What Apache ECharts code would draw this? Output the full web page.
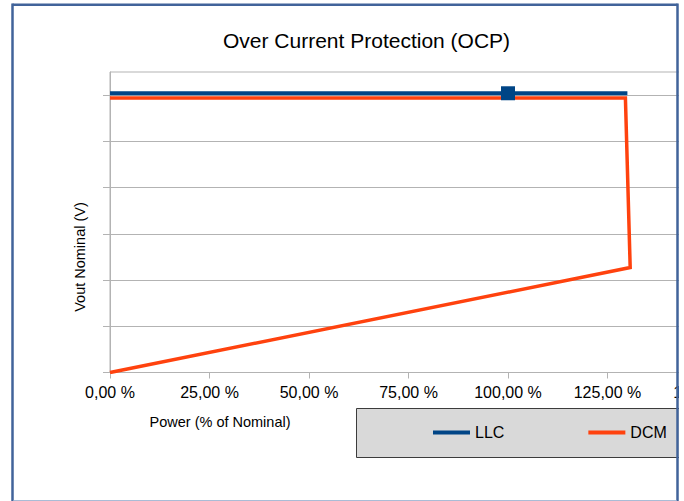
<!DOCTYPE html>
<html>
<head>
<meta charset="utf-8">
<script src="https://cdn.jsdelivr.net/npm/echarts@6/dist/echarts.min.js"></script>
<style>
html,body{margin:0;padding:0;background:#fff;}
#chart{width:684px;height:501px;}
</style>
</head>
<body>
<div id="chart"></div>
<script>
// ---- data ----
var titleText = 'Over Current Protection (OCP)';
var xAxisName = 'Power (% of Nominal)';
var yAxisName = 'Vout Nominal (V)';
var seriesNames = ['LLC', 'DCM'];
var xTicks = [0, 25, 50, 75, 100, 125, 150];
var yTicks = [0, 1, 2, 3, 4, 5, 6];
var llcX = [0, 100, 130];
var llcY = [6.04, 6.04, 6.04];
var llcMarker = [false, true, false];
var dcmX = [0, 129.5, 130.7, 0];
var dcmY = [5.94, 5.94, 2.27, 0];

var FONT = '"Liberation Sans", Arial, sans-serif';

var llcData = llcX.map(function (x, i) {
  return { value: [x, llcY[i]], symbol: llcMarker[i] ? 'rect' : 'none' };
});
var dcmData = dcmX.map(function (x, i) { return [x, dcmY[i]]; });

var chart = echarts.init(document.getElementById('chart'), null, { renderer: 'svg' });
chart.setOption({
  animation: false,
  backgroundColor: '#ffffff',
  title: {
    text: titleText,
    left: 223, top: 30, padding: 0,
    textStyle: { fontFamily: FONT, fontSize: 21, fontWeight: 'normal', color: '#000' }
  },
  grid: { left: 110, top: 72, height: 300.5, width: 597, outerBoundsMode: 'none', containLabel: false, show: true, borderColor: '#b3b3b3', borderWidth: 1, backgroundColor: 'transparent' },
  legend: {
    data: seriesNames,
    left: 356, top: 408,
    padding: [16, 0, 16, 77],
    itemGap: 84,
    itemWidth: 37, itemHeight: 4,
    icon: 'rect',
    textStyle: { fontFamily: FONT, fontSize: 16, color: '#000', lineHeight: 17 }
  },
  xAxis: {
    type: 'value', min: xTicks[0], max: xTicks[xTicks.length - 1], interval: 25,
    axisLine: { show: true, lineStyle: { color: '#b3b3b3', width: 1 } },
    axisTick: { show: true, length: 6, lineStyle: { color: '#b3b3b3' } },
    splitLine: { show: false },
    axisLabel: {
      margin: 12, fontFamily: FONT, fontSize: 16, color: '#000', hideOverlap: false,
      formatter: function (v) { return v.toFixed(2).replace('.', ',') + ' %'; }
    }
  },
  yAxis: {
    type: 'value', min: 0, max: 6.5, interval: 1,
    axisLine: { show: true, lineStyle: { color: '#b3b3b3', width: 1 } },
    axisTick: { show: true, length: 7, customValues: yTicks, lineStyle: { color: '#b3b3b3' } },
    axisLabel: { show: false },
    splitLine: { show: true, lineStyle: { color: '#b3b3b3', width: 1 } }
  },
  series: [
    {
      name: 'LLC', type: 'line', data: llcData, z: 4,
      color: '#004586',
      showSymbol: true, symbolSize: 14,
      lineStyle: { width: 4, color: '#004586' },
      itemStyle: { color: '#004586' }
    },
    {
      name: 'DCM', type: 'line', data: dcmData, z: 3,
      color: '#ff420e',
      showSymbol: false, symbol: 'none',
      lineStyle: { width: 3.5, color: '#ff420e', join: 'miter' },
      itemStyle: { color: '#ff420e' }
    }
  ],
  graphic: [
    { type: 'rect', z: 1, shape: { x: 356.5, y: 408.5, width: 340, height: 49 }, style: { fill: '#d9d9d9', stroke: '#3c3c3c', lineWidth: 1 } },
    { type: 'text', x: 220, y: 422, z: 50, style: { text: xAxisName, fontFamily: FONT, fontSize: 14.5, fill: '#000', textAlign: 'center', textVerticalAlign: 'middle' } },
    { type: 'text', x: 80, y: 257, rotation: Math.PI / 2, z: 50, style: { text: yAxisName, fontFamily: FONT, fontSize: 14.5, fill: '#000', textAlign: 'center', textVerticalAlign: 'middle' } },
    { type: 'rect', z: 100, shape: { x: 679, y: 0, width: 10, height: 501 }, style: { fill: '#ffffff' } },
    { type: 'line', z: 101, shape: { x1: 12.5, y1: 4.7, x2: 677.5, y2: 4.7 }, style: { stroke: '#41639a', lineWidth: 2.5 } },
    { type: 'line', z: 101, shape: { x1: 12.5, y1: 3.5, x2: 12.5, y2: 501 }, style: { stroke: '#41639a', lineWidth: 2.5 } },
    { type: 'line', z: 101, shape: { x1: 677.5, y1: 3.5, x2: 677.5, y2: 501 }, style: { stroke: '#41639a', lineWidth: 2.5 } },
    { type: 'line', z: 101, shape: { x1: 13.5, y1: 500.5, x2: 676.5, y2: 500.5 }, style: { stroke: '#a9bcd6', lineWidth: 1 } }
  ]
});
</script>
</body>
</html>
